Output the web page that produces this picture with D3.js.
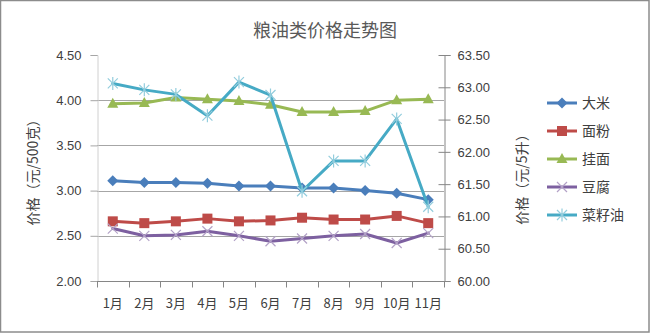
<!DOCTYPE html>
<html>
<head>
<meta charset="utf-8">
<script src="https://cdn.jsdelivr.net/npm/d3@7"></script>
<style>
  html, body { margin: 0; padding: 0; background: #fff; }
  svg { display: block; }
  text { font-family: "Liberation Sans", "Noto Sans CJK SC", sans-serif; }
  .cjk { font-family: "Noto Sans CJK SC", sans-serif; }
</style>
</head>
<body>
<svg id="chart" width="650" height="333"></svg>
<script>
// Monthly prices: grains on the left axis (元/500克), rapeseed oil on the right axis (元/5升)
const months = ["1月","2月","3月","4月","5月","6月","7月","8月","9月","10月","11月"];
const rice      = [3.11, 3.09, 3.09, 3.08, 3.05, 3.05, 3.03, 3.03, 3.00, 2.97, 2.90];
const flour     = [2.66, 2.64, 2.66, 2.69, 2.66, 2.67, 2.70, 2.68, 2.68, 2.72, 2.64];
const noodles   = [3.96, 3.97, 4.03, 4.01, 3.99, 3.95, 3.87, 3.87, 3.88, 4.00, 4.01];
const tofu      = [2.58, 2.50, 2.51, 2.55, 2.50, 2.44, 2.47, 2.50, 2.52, 2.42, 2.53];
const rapeOil   = [63.06, 62.96, 62.89, 62.56, 63.08, 62.88, 61.39, 61.86, 61.86, 62.51, 61.15];
const leftTicks  = [2.00, 2.50, 3.00, 3.50, 4.00, 4.50];
const rightTicks = [60.00, 60.50, 61.00, 61.50, 62.00, 62.50, 63.00, 63.50];

const svg = d3.select("#chart");
const W = 650, H = 333;
const plot = { left: 97, right: 444, top: 55, bottom: 281 };

const x  = d3.scaleBand().domain(months).range([plot.left, plot.right]);
const yL = d3.scaleLinear().domain([2, 4.5]).range([plot.bottom, plot.top]);
const yR = d3.scaleLinear().domain([60, 63.5]).range([plot.bottom, plot.top]);
const cx = m => x(m) + x.bandwidth() / 2;

// outer frame
svg.append("rect").attr("x", 0.5).attr("y", 0.5).attr("width", W - 1.5).attr("height", H - 1.5)
  .attr("fill", "#fff").attr("stroke", "#8c8c8c").attr("stroke-width", 1.5);

// title
svg.append("text").attr("class", "cjk").attr("x", 325).attr("y", 37)
  .attr("text-anchor", "middle").attr("font-size", 18).attr("fill", "#595959")
  .text("粮油类价格走势图");

// horizontal gridlines on the left scale
svg.append("g").selectAll("line").data(leftTicks.filter(v => v > 2 && v < 4.5)).join("line")
  .attr("x1", plot.left).attr("x2", plot.right)
  .attr("y1", d => Math.round(yL(d)) + 0.5).attr("y2", d => Math.round(yL(d)) + 0.5)
  .attr("stroke", "#a6a6a6").attr("stroke-width", 1);

// left axis
const gL = svg.append("g").attr("transform", `translate(${plot.left + 0.5},0)`)
  .call(d3.axisLeft(yL).tickValues(leftTicks).tickFormat(d3.format(".2f")).tickSize(7).tickPadding(9));
gL.select(".domain").attr("stroke", "#d0d0d0");
gL.selectAll(".tick line").attr("stroke", "#a6a6a6");
gL.selectAll("text").attr("font-size", 13).attr("fill", "#404040");

// right axis
const gR = svg.append("g").attr("transform", `translate(${plot.right + 0.5},0)`)
  .call(d3.axisRight(yR).tickValues(rightTicks).tickFormat(d3.format(".2f")).tickSize(6).tickPadding(7));
gR.select(".domain").attr("stroke", "#868686");
gR.selectAll(".tick line").attr("stroke", "#868686").attr("x1", -6);
gR.selectAll("text").attr("font-size", 13).attr("fill", "#404040");

// bottom axis with ticks between categories
const gX = svg.append("g").attr("transform", `translate(0,${plot.bottom + 0.5})`);
gX.append("line").attr("x1", plot.left).attr("x2", plot.right + 1).attr("stroke", "#868686");
const bounds = months.map(m => x(m)).concat([plot.right]);
gX.selectAll("line.tk").data(bounds).join("line").attr("class", "tk")
  .attr("x1", d => Math.round(d) + 0.5).attr("x2", d => Math.round(d) + 0.5)
  .attr("y1", 0).attr("y2", 6).attr("stroke", "#868686");
gX.selectAll("text").data(months).join("text").attr("class", "cjk")
  .attr("x", d => cx(d)).attr("y", 26).attr("text-anchor", "middle")
  .attr("font-size", 13).attr("fill", "#404040").text(d => d);

// axis titles
svg.append("text").attr("class", "cjk")
  .attr("transform", "translate(38,169) rotate(-90)").attr("text-anchor", "middle")
  .attr("font-size", 14).attr("fill", "#404040").text("价格（元/500克）");
svg.append("text").attr("class", "cjk")
  .attr("transform", "translate(527,176) rotate(-90)").attr("text-anchor", "middle")
  .attr("font-size", 14).attr("fill", "#404040").text("价格（元/5升）");

// marker shapes
const markers = {
  diamond: (g, c) => g.append("path").attr("d", "M0,-5.5L5.5,0L0,5.5L-5.5,0Z").attr("fill", c),
  square:  (g, c) => g.append("rect").attr("x", -5).attr("y", -5).attr("width", 10).attr("height", 10).attr("fill", c),
  triangle:(g, c) => g.append("path").attr("d", "M0,-6L5.5,4L-5.5,4Z").attr("fill", c),
  cross:   (g, c) => g.append("path").attr("d", "M-5,-5L5,5M-5,5L5,-5").attr("stroke", c).attr("stroke-width", 1.2).attr("fill", "none"),
  star:    (g, c) => g.append("path").attr("d", "M-5,-5L5,5M-5,5L5,-5M0,-6.5L0,6.5").attr("stroke", c).attr("stroke-width", 1.2).attr("fill", "none")
};

const series = [
  { name: "大米",   values: rice,    y: yL, color: "#4a7ebb", mark: "diamond",  mcolor: "#4a7ebb" },
  { name: "面粉",   values: flour,   y: yL, color: "#be4b48", mark: "square",   mcolor: "#be4b48" },
  { name: "挂面",   values: noodles, y: yL, color: "#98b954", mark: "triangle", mcolor: "#98b954" },
  { name: "豆腐",   values: tofu,    y: yL, color: "#7d60a0", mark: "cross",    mcolor: "#b3a2c7" },
  { name: "菜籽油", values: rapeOil, y: yR, color: "#46aac5", mark: "star",     mcolor: "#93cddd" }
];

const line = s => d3.line().x((d, i) => cx(months[i])).y(d => s.y(d));

series.forEach(s => {
  const g = svg.append("g");
  g.append("path").datum(s.values).attr("d", line(s))
    .attr("fill", "none").attr("stroke", s.color).attr("stroke-width", 3)
    .attr("stroke-linejoin", "round").attr("stroke-linecap", "round");
  s.values.forEach((v, i) => {
    const mg = g.append("g").attr("transform", `translate(${cx(months[i])},${s.y(v)})`);
    markers[s.mark](mg, s.mcolor);
  });
});

// legend
const legend = svg.append("g");
series.forEach((s, i) => {
  const yy = 103 + i * 28;
  legend.append("line").attr("x1", 547).attr("x2", 577).attr("y1", yy).attr("y2", yy)
    .attr("stroke", s.color).attr("stroke-width", 3);
  markers[s.mark](legend.append("g").attr("transform", `translate(562,${yy})`), s.mcolor);
  legend.append("text").attr("class", "cjk").attr("x", 582).attr("y", yy + 5)
    .attr("font-size", 14).attr("fill", "#404040").text(s.name);
});
</script>
</body>
</html>
